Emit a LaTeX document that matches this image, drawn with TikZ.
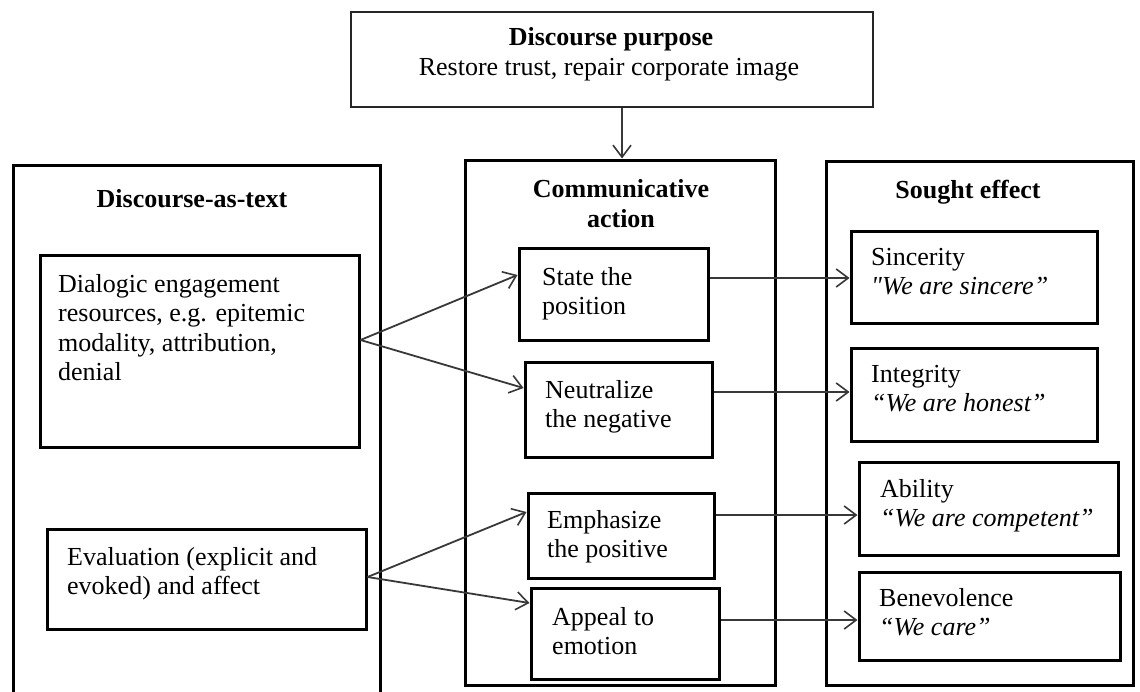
\documentclass[tikz,border=0pt]{standalone}
\usepackage{fontspec}
\setmainfont{Liberation Serif}
\usetikzlibrary{arrows.meta,fit,calc}
\begin{document}
\begin{tikzpicture}[x=1pt,y=-1pt,
  box/.style={draw=black, line width=3pt, inner sep=0pt},
  bigbox/.style={draw=black, line width=3pt, inner sep=0pt},
  topbox/.style={draw=black!85, line width=2pt, inner sep=0pt},
  txt/.style={inner sep=0pt, align=left, anchor=north west, font=\fontsize{26}{29.5}\selectfont},
  ttl/.style={inner sep=0pt, anchor=base, font=\bfseries\fontsize{26}{30}\selectfont},
  sub/.style={inner sep=0pt, anchor=base, font=\fontsize{26}{30}\selectfont},
  arr/.style={draw=black!78, line width=1.8pt, -{Straight Barb[length=12pt,width=18pt,line width=1.6pt]}}
]
\useasboundingbox (0,0) rectangle (1140,691);
\clip (0,0) rectangle (1140,691);

% outer boxes
\node[topbox, fit={(351,12) (873,107)}] (purpose) {};
\node[bigbox, fit={(13,165) (380,705)}] (dat) {};
\node[bigbox, fit={(465,160) (775,685)}] (comm) {};
\node[bigbox, fit={(826,161) (1133,685)}] (sought) {};

% inner boxes
\node[box, fit={(40,255) (359,447)}] (dial) {};
\node[box, fit={(47,529) (366,629)}] (eval) {};
\node[box, fit={(519,248) (708,340)}] (state) {};
\node[box, fit={(525,362) (712,457)}] (neut) {};
\node[box, fit={(528,493) (714,578)}] (emph) {};
\node[box, fit={(531,588) (719,679)}] (appeal) {};
\node[box, fit={(851,231) (1097,323)}] (sinc) {};
\node[box, fit={(851,348) (1097,441)}] (integ) {};
\node[box, fit={(859,462) (1118,555)}] (abil) {};
\node[box, fit={(859,572) (1120,660)}] (bene) {};

% titles
\node[ttl] (purposeT) at (611,45) {Discourse purpose};
\node[sub] (purposeS) at (609,75) {Restore trust, repair corporate image};
\node[ttl] (datT) at (192,207) {Discourse-as-text};
\node[ttl] (commT1) at (621,197) {Communicative};
\node[ttl] (commT2) at (621,227) {action};
\node[ttl] (soughtT) at (968,198) {Sought effect};

% texts
\node[txt] (dialT) at (58,274) {Dialogic engagement\\resources, e.g. epitemic\\modality, attribution,\\denial};
\node[txt] (evalT) at (67,547) {Evaluation (explicit and\\evoked) and affect};
\node[txt] (stateT) at (542,267) {State the\\position};
\node[txt] (neutT) at (545,380) {Neutralize\\the negative};
\node[txt] (emphT) at (547,510) {Emphasize\\the positive};
\node[txt] (appealT) at (552,607) {Appeal to\\emotion};
\node[txt] (sincT) at (871,248) {Sincerity\\\textit{\textquotedbl We are sincere”}};
\node[txt] (integT) at (871,365) {Integrity\\\textit{“We are honest”}};
\node[txt] (abilT) at (880,479) {Ability\\\textit{“We are competent”}};
\node[txt] (beneT) at (879,588) {Benevolence\\\textit{“We care”}};

% connectors
\draw[arr] (purpose.south -| 622,0) -- (comm.north -| 622,0);
\draw[arr] (dial.east |- 0,340) -- (state.west |- 0,275);
\draw[arr] (dial.east |- 0,340) -- (neut.west |- 0,388);
\draw[arr] (eval.east |- 0,577) -- (emph.west |- 0,512);
\draw[arr] (eval.east |- 0,577) -- (appeal.west |- 0,603);
\draw[arr] (state.east |- 0,278) -- (sinc.west |- 0,278);
\draw[arr] (neut.east |- 0,392) -- (integ.west |- 0,392);
\draw[arr] (emph.east |- 0,515) -- (abil.west |- 0,515);
\draw[arr] (appeal.east |- 0,620) -- (bene.west |- 0,620);
\end{tikzpicture}
\end{document}
